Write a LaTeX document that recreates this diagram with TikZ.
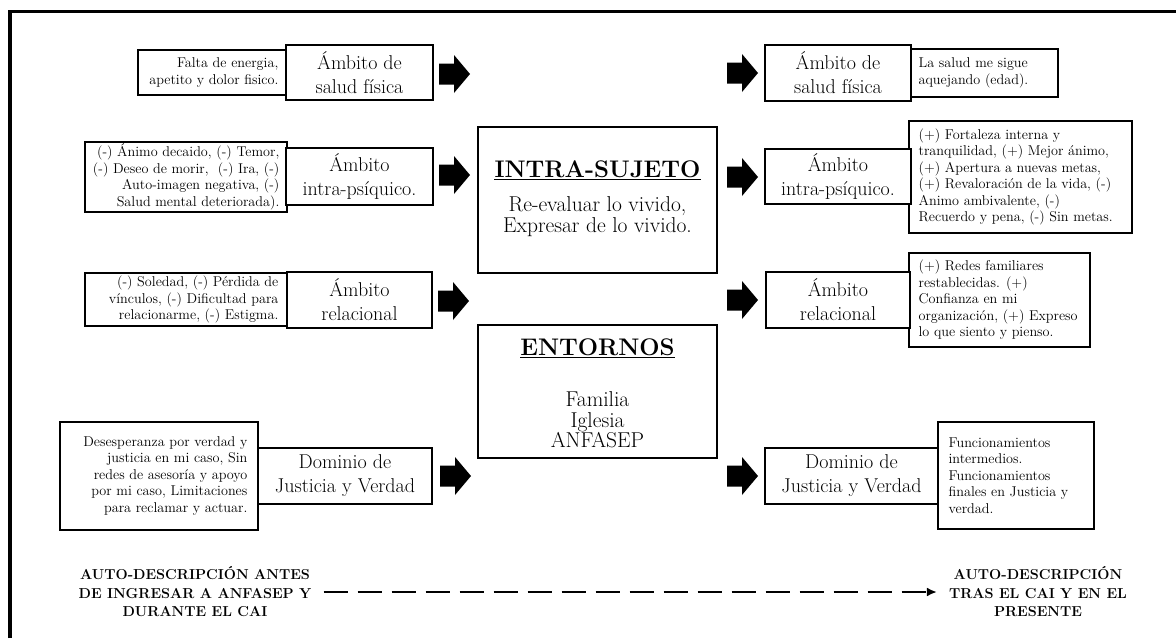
\documentclass[tikz,border=0pt]{standalone}
\usepackage{fontspec}
\usetikzlibrary{arrows.meta}
\tikzset{
  descbox/.style={draw=black, line width=1.2pt, fill=white, inner sep=0pt},
  dtext/.style={inner sep=0pt, font=\fontsize{14.2}{16.5}\selectfont},
  titlebox/.style={draw=black, line width=2.8pt, fill=white, align=center, inner sep=0pt, font=\fontsize{20}{24}\selectfont},
  cbox/.style={draw=black, line width=1.3pt, fill=white, inner sep=0pt},
  chead/.style={inner sep=0pt, anchor=base, font=\fontsize{24}{28}\selectfont\bfseries},
  cbody/.style={inner sep=0pt, align=center, font=\fontsize{21.5}{21}\selectfont},
  btext/.style={inner xsep=12pt, inner ysep=2pt, align=center, font=\fontsize{14.4}{18.5}\selectfont\bfseries},
  blockarrow/.pic={\fill[black] (0,-10.5) -- (15,-10.5) -- (15,-19) -- (31,0) -- (15,19) -- (15,10.5) -- (0,10.5) -- cycle;},
  flow/.style={line width=2.5pt, dash pattern=on 24pt off 10pt, -{Latex[length=10pt,width=9pt]}}
}
\begin{document}
\begin{tikzpicture}[x=1pt,y=-1pt]
\useasboundingbox (0,0) rectangle (1176,638);
\fill[white] (0,0) rectangle (1176,638);
\draw[line width=3.5pt] (10,638) -- (10,11.5) -- (1176,11.5);

% ---------- left column ----------
\node[descbox, minimum width=149, minimum height=45] (d1) at (212.5,72.5) {};
\node[dtext, align=right, anchor=east] (d1t) at ([xshift=-9pt]d1.east) {Falta de energia,\\apetito y dolor fisico.};
\node[titlebox, minimum width=147, minimum height=55] (t1) at (359.5,72.5) {Ámbito de\\salud física};
\pic at (439,74) {blockarrow};

\node[descbox, minimum width=202, minimum height=70] (d2) at (186,177) {};
\node[dtext, align=right, anchor=east] (d2t) at ([xshift=-8pt]d2.east) {(-) Ánimo decaido, (-) Temor,\\(-) Deseo de morir,\ \ (-) Ira, (-)\\Auto-imagen negativa, (-)\\Salud mental deteriorada).};
\node[titlebox, minimum width=147, minimum height=57] (t2) at (359.5,176.5) {Ámbito\\intra-psíquico.};
\pic at (439,175) {blockarrow};

\node[descbox, minimum width=202, minimum height=53] (d3) at (186,299.5) {};
\node[dtext, align=right, anchor=east] (d3t) at ([xshift=-9pt]d3.east) {(-) Soledad, (-) Pérdida de\\vínculos, (-) Dificultad para\\relacionarme, (-) Estigma.};
\node[titlebox, minimum width=145, minimum height=56] (t3) at (359.5,300) {Ámbito\\relacional};
\pic at (438,301) {blockarrow};

\node[descbox, minimum width=198, minimum height=108] (d4) at (159,476) {};
\node[dtext, align=right, anchor=east] (d4t) at ([xshift=-11pt]d4.east) {Desesperanza por verdad y\\justicia en mi caso, Sin\\redes de asesoría y apoyo\\por mi caso, Limitaciones\\para reclamar y actuar.};
\node[titlebox, minimum width=174, minimum height=56] (t4) at (345,476) {Dominio de\\Justicia y Verdad};
\pic at (440,476) {blockarrow};

% ---------- centre ----------
\node[cbox, minimum width=239, minimum height=146] (c1) at (597.5,200) {};
\node[chead] (c1h) at (597.5,177) {INTRA-SUJETO};
\draw[line width=1.3pt] ([yshift=-2.5pt]c1h.base west) -- ([yshift=-2.5pt]c1h.base east);
\node[cbody] (c1b) at (597.5,217) {Re-evaluar lo vivido,\\Expresar de lo vivido.};

\node[cbox, minimum width=239, minimum height=133] (c2) at (597.5,391.5) {};
\node[chead] (c2h) at (597.5,355) {ENTORNOS};
\draw[line width=1.3pt] ([yshift=-2.5pt]c2h.base west) -- ([yshift=-2.5pt]c2h.base east);
\node[cbody, font=\fontsize{21.5}{20.5}\selectfont] (c2b) at (597.5,420) {Familia\\Iglesia\\ANFASEP};

% ---------- right column ----------
\pic at (727,73) {blockarrow};
\node[descbox, minimum width=147, minimum height=48] (r1) at (984.5,73) {};
\node[dtext, align=left, anchor=west] (r1t) at ([xshift=8pt]r1.west) {La salud me sigue\\aquejando (edad).};
\node[titlebox, minimum width=146, minimum height=56] (s1) at (838,73) {Ámbito de\\salud física};

\pic at (727,177) {blockarrow};
\node[descbox, minimum width=223, minimum height=112] (r2) at (1020.5,177) {};
\node[dtext, align=left, anchor=west] (r2t) at ([xshift=10pt]r2.west) {(+) Fortaleza interna y\\tranquilidad, (+) Mejor ánimo,\\(+) Apertura a nuevas metas,\\(+) Revaloración de la vida, (-)\\Animo ambivalente, (-)\\Recuerdo y pena, (-) Sin metas.};
\node[titlebox, minimum width=146, minimum height=55] (s2) at (838,176.5) {Ámbito\\intra-psíquico.};

\pic at (727,300) {blockarrow};
\node[descbox, minimum width=181, minimum height=94] (r3) at (999.5,300) {};
\node[dtext, align=left, anchor=west] (r3t) at ([xshift=10pt]r3.west) {(+) Redes familiares\\restablecidas. (+)\\Confianza en mi\\organización, (+) Expreso\\lo que siento y pienso.};
\node[titlebox, minimum width=144, minimum height=56] (s3) at (838,300) {Ámbito\\relacional};

\pic at (727,476) {blockarrow};
\node[descbox, minimum width=156, minimum height=107] (r4) at (1016,475.5) {};
\node[dtext, align=left, anchor=west] (r4t) at ([xshift=11pt]r4.west) {Funcionamientos\\intermedios.\\Funcionamientos\\finales en Justicia y\\verdad.};
\node[titlebox, minimum width=173, minimum height=56] (s4) at (851.5,476) {Dominio de\\Justicia y Verdad};

% ---------- bottom ----------
\node[btext] (bl) at (195,592) {AUTO-DESCRIPCIÓN ANTES\\DE INGRESAR A ANFASEP Y\\DURANTE EL CAI};
\node[btext] (br) at (1038,592) {AUTO-DESCRIPCIÓN\\TRAS EL CAI Y EN EL\\PRESENTE};
\draw[flow] (bl) -- (br);
\end{tikzpicture}
\end{document}
